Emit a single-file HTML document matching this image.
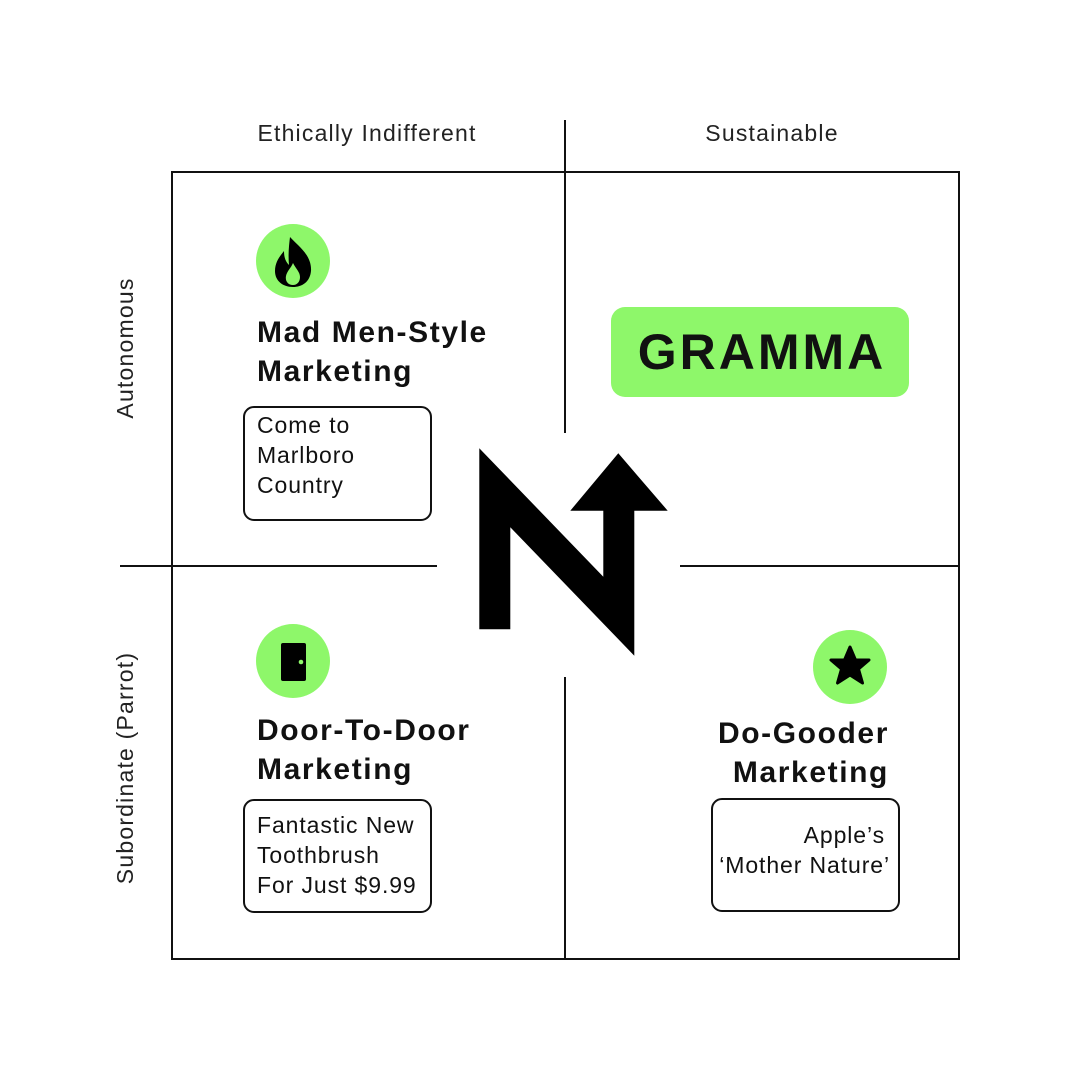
<!DOCTYPE html>
<html><head><meta charset="utf-8"><style>body{margin:0;background:#fff}svg{display:block}</style></head><body>
<svg width="1070" height="1070" viewBox="0 0 1070 1070" xmlns="http://www.w3.org/2000/svg" font-family="Liberation Sans, sans-serif">
<rect width="1070" height="1070" fill="#fff"/>
<g stroke="#111" stroke-width="2" fill="none">
<rect x="172" y="172" width="787" height="787"/>
<line x1="565" y1="120" x2="565" y2="433"/>
<line x1="565" y1="677" x2="565" y2="959"/>
<line x1="120" y1="566" x2="437" y2="566"/>
<line x1="680" y1="566" x2="959" y2="566"/>
</g>
<g font-size="23" fill="#222" letter-spacing="1.2">
<text x="367" y="141" text-anchor="middle">Ethically Indifferent</text>
<text x="772" y="141" text-anchor="middle">Sustainable</text>
<text transform="translate(133,348) rotate(-90)" text-anchor="middle">Autonomous</text>
<text transform="translate(133,768) rotate(-90)" text-anchor="middle">Subordinate (Parrot)</text>
</g>
<polygon fill="#000" points="479.3,448.3 603.3,576.7 603.3,510.7 570.3,510.7 618.3,453.3 667.7,510.7 634.3,510.7 634.3,655.7 510.3,527.3 510.3,629.3 479.3,629.3"/>
<circle cx="293" cy="261" r="37" fill="#8ef76a"/>
<path d="M290,237 C298,246 312,255 311,271 C310,282 302,287 293,287 C283,287 275,281 275,271 C275,262 280,256 284,251 C284,258 286,262 289,265 C288,254 289,245 290,237 Z M293,285 C288,285 285,281 286,276 C287,271 291,268 293,263 C296,269 300,272 300,277 C300,282 297,285 293,285 Z" fill="#000" fill-rule="evenodd"/>
<circle cx="293" cy="661" r="37" fill="#8ef76a"/>
<rect x="281" y="643" width="25" height="38" rx="2" fill="#000"/>
<circle cx="301" cy="662" r="2.3" fill="#8ef76a"/>
<circle cx="850" cy="667" r="37" fill="#8ef76a"/>
<polygon fill="#000" stroke="#000" stroke-width="3" stroke-linejoin="round" points="850,647 855.5,660 869,660 858.5,669 862.5,683 850,675 837.5,683 841.5,669 831,660 844.5,660"/>
<g font-size="30" font-weight="bold" fill="#111" letter-spacing="1.6">
<text x="257" y="342">Mad Men-Style</text>
<text x="257" y="381">Marketing</text>
<text x="257" y="740">Door-To-Door</text>
<text x="257" y="779">Marketing</text>
<text x="889" y="743" text-anchor="end">Do-Gooder</text>
<text x="889" y="782" text-anchor="end">Marketing</text>
</g>
<rect x="611" y="307" width="298" height="90" rx="14" fill="#8ef76a"/>
<text x="762" y="369" text-anchor="middle" font-size="50" font-weight="bold" fill="#111" letter-spacing="3">GRAMMA</text>
<g fill="none" stroke="#111" stroke-width="2">
<rect x="244" y="407" width="187" height="113" rx="10"/>
<rect x="244" y="800" width="187" height="112" rx="10"/>
<rect x="712" y="799" width="187" height="112" rx="10"/>
</g>
<g font-size="23" fill="#111" letter-spacing="0.9">
<text x="257" y="433">Come to</text>
<text x="257" y="463">Marlboro</text>
<text x="257" y="493">Country</text>
<text x="257" y="833">Fantastic New</text>
<text x="257" y="863">Toothbrush</text>
<text x="257" y="893">For Just $9.99</text>
<text x="885" y="843" text-anchor="end">Apple’s</text>
<text x="890" y="873" text-anchor="end">‘Mother Nature’</text>
</g>
</svg>
</body></html>
